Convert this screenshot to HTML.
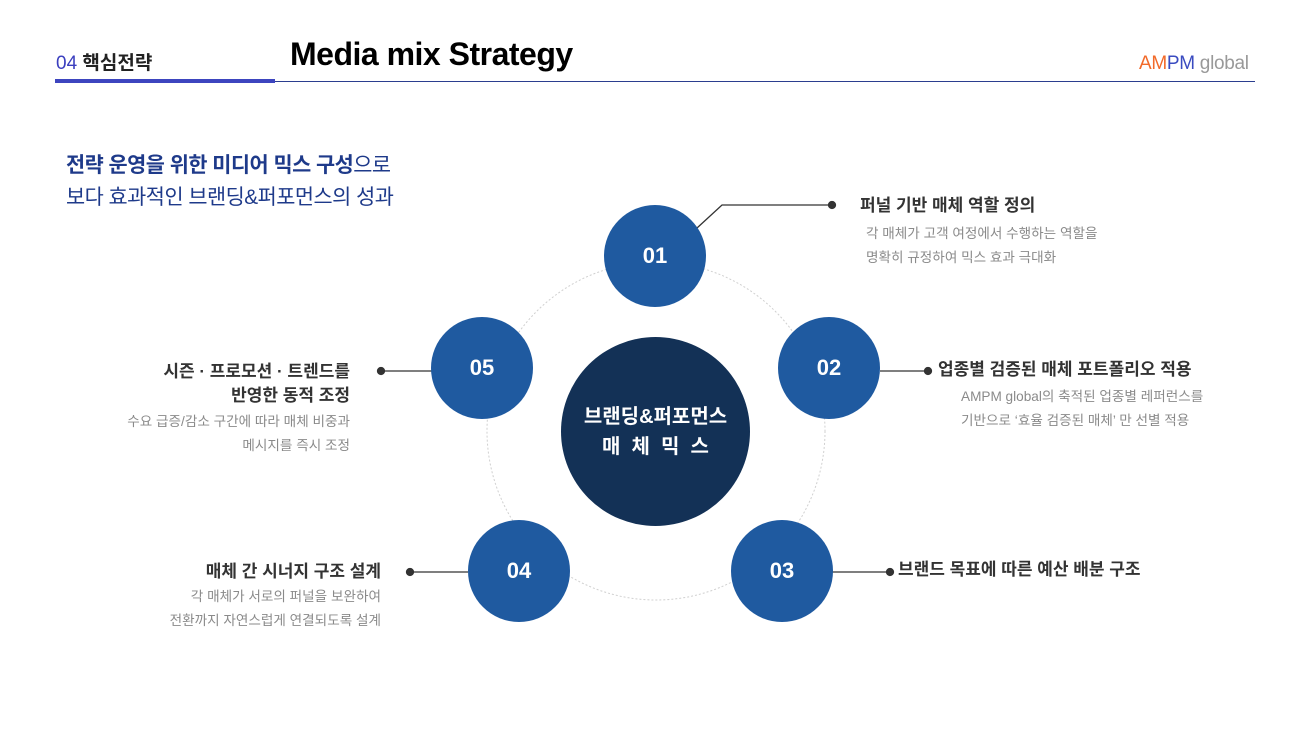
<!DOCTYPE html>
<html><head><meta charset="utf-8"><style>
body{margin:0;width:1316px;height:741px;background:#fff;position:relative;overflow:hidden;font-family:"Liberation Sans","Noto Sans CJK KR",sans-serif}
.a{position:absolute;white-space:nowrap}
.t{font-size:17px;font-weight:bold;color:#333;line-height:24px}
.d{font-size:13.6px;color:#8a8a8a;line-height:24px}
.r{text-align:right}
.c{position:absolute;border-radius:50%;background:#1f5aa0;color:#fff;font-size:22px;font-weight:bold;display:flex;align-items:center;justify-content:center;width:102px;height:102px}
</style></head><body>
<div class="a" style="left:56px;top:48px;font-size:19px;color:#222;font-weight:bold"><span style="color:#3b3fbf;font-weight:normal">04</span> 핵심전략</div>
<div class="a" style="left:290px;top:36px;font-size:32px;font-weight:bold;color:#000;letter-spacing:-0.5px">Media mix Strategy</div>
<div class="a" style="left:1139px;top:53px;font-size:19px;letter-spacing:-0.3px"><span style="color:#f26a2a">AM</span><span style="color:#3a4bc0">PM</span> <span style="color:#999">global</span></div>
<div class="a" style="left:55px;top:81px;width:1200px;height:1px;background:#2b3e8f"></div>
<div class="a" style="left:55px;top:79px;width:220px;height:4px;background:#3d45bf"></div>
<div class="a" style="left:66px;top:150px;font-size:20.8px;line-height:32px;color:#1e3a8a;letter-spacing:-0.5px"><b>전략 운영을 위한 미디어 믹스 구성</b>으로<br>보다 효과적인 브랜딩&amp;퍼포먼스의 성과</div>
<svg class="a" style="left:0;top:0" width="1316" height="741">
<circle cx="656" cy="431" r="169" fill="none" stroke="#d0d0d0" stroke-dasharray="2,2"/>
<g stroke="#333" stroke-width="1.3" fill="#333">
<polyline points="697,228 722,205 832,205" fill="none"/><circle cx="832" cy="205" r="3.5"/>
<line x1="880" y1="371" x2="928" y2="371"/><circle cx="928" cy="371" r="3.5"/>
<line x1="831" y1="572" x2="890" y2="572"/><circle cx="890" cy="572" r="3.5"/>
<line x1="410" y1="572" x2="468" y2="572"/><circle cx="410" cy="572" r="3.5"/>
<line x1="381" y1="371" x2="432" y2="371"/><circle cx="381" cy="371" r="3.5"/>
</g></svg>
<div class="a" style="left:561px;top:337px;width:189px;height:189px;border-radius:50%;background:#133156;color:#fff;font-size:20px;font-weight:bold;text-align:center;line-height:30px;display:flex;align-items:center;justify-content:center">브랜딩&amp;퍼포먼스<br>매&nbsp;&nbsp;체&nbsp;&nbsp;믹&nbsp;&nbsp;스</div>
<div class="c" style="left:604px;top:205px">01</div>
<div class="c" style="left:778px;top:317px">02</div>
<div class="c" style="left:731px;top:520px">03</div>
<div class="c" style="left:468px;top:520px">04</div>
<div class="c" style="left:431px;top:317px">05</div>
<div class="a t" style="left:860px;top:194px">퍼널 기반 매체 역할 정의</div>
<div class="a d" style="left:866px;top:222px">각 매체가 고객 여정에서 수행하는 역할을<br>명확히 규정하여 믹스 효과 극대화</div>
<div class="a t" style="left:938px;top:358px">업종별 검증된 매체 포트폴리오 적용</div>
<div class="a d" style="left:961px;top:385px">AMPM global의 축적된 업종별 레퍼런스를<br>기반으로 ‘효율 검증된 매체’ 만 선별 적용</div>
<div class="a t" style="left:898px;top:558px">브랜드 목표에 따른 예산 배분 구조</div>
<div class="a t r" style="right:966px;top:360px">시즌 · 프로모션 · 트렌드를<br>반영한 동적 조정</div>
<div class="a d r" style="right:966px;top:410px">수요 급증/감소 구간에 따라 매체 비중과<br>메시지를 즉시 조정</div>
<div class="a t r" style="right:935px;top:560px">매체 간 시너지 구조 설계</div>
<div class="a d r" style="right:935px;top:585px">각 매체가 서로의 퍼널을 보완하여<br>전환까지 자연스럽게 연결되도록 설계</div>
</body></html>
